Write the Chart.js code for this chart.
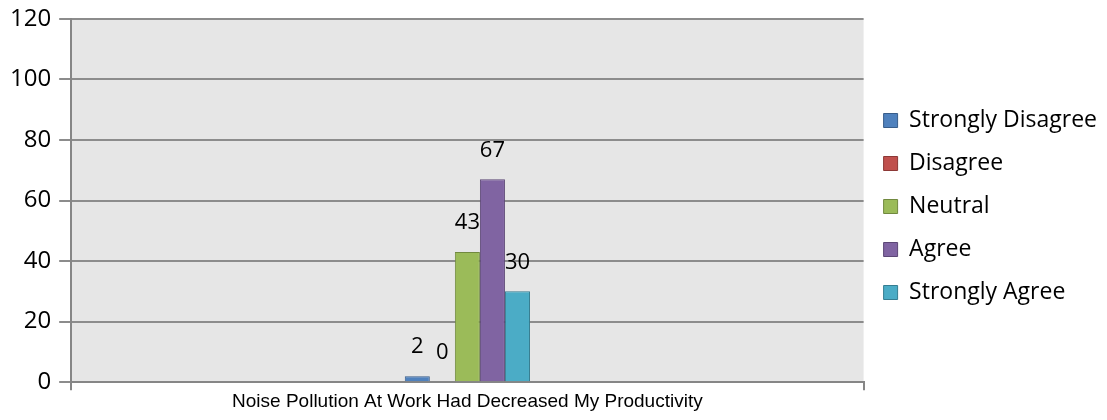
<!DOCTYPE html>
<html>
<head>
<meta charset="utf-8">
<script src="https://cdn.jsdelivr.net/npm/chart.js@4/dist/chart.umd.min.js"></script>
<style>
  html, body { margin: 0; padding: 0; background: #fff; }
  #wrap { width: 1107px; height: 420px; }
</style>
</head>
<body>
<div id="wrap"><canvas id="surveyChart" width="1107" height="420"></canvas></div>
<script>
// survey answers, one group of bars
const categories = ['Noise Pollution At Work Had Decreased My Productivity'];
const seriesNames = ['Strongly Disagree', 'Disagree', 'Neutral', 'Agree', 'Strongly Agree'];
const seriesValues = [2, 0, 43, 67, 30];
const yTicks = [0, 20, 40, 60, 80, 100, 120];

const fills = ['#4f81bd', '#c0504d', '#9bbb59', '#8064a2', '#4bacc6'];
const edges = ['#385d8a', '#8c3836', '#71893f', '#5c4776', '#357d91'];

// grey plot background
const plotBg = {
    id: 'plotBg',
    beforeDraw(chart) {
        const a = chart.chartArea;
        const c = chart.ctx;
        c.save();
        c.fillStyle = '#e6e6e6';
        c.fillRect(a.left, a.top, a.right - a.left, a.bottom - a.top);
        c.restore();
    }
};

// numbers above each bar
const valueLabels = {
    id: 'valueLabels',
    afterDatasetsDraw(chart) {
        const c = chart.ctx;
        c.save();
        c.font = '22px "Open Sans"';
        c.fillStyle = '#000';
        c.textAlign = 'center';
        c.textBaseline = 'middle';
        chart.data.datasets.forEach((ds, i) => {
            chart.getDatasetMeta(i).data.forEach((bar, j) => {
                c.fillText(String(ds.data[j]), bar.x, bar.y - 29);
            });
        });
        c.restore();
    }
};

const datasets = seriesNames.map((name, i) => ({
    label: name,
    data: [seriesValues[i]],
    backgroundColor: fills[i],
    borderColor: edges[i],
    borderWidth: 1,
    barPercentage: 1,
    categoryPercentage: 0.158
}));

new Chart(document.getElementById('surveyChart').getContext('2d'), {
    type: 'bar',
    data: { labels: categories, datasets: datasets },
    options: {
        responsive: false,
        animation: false,
        layout: { padding: { left: 2, top: 0, right: 0, bottom: 7 } },
        plugins: {
            tooltip: { enabled: false },
            legend: {
                position: 'right',
                labels: {
                    boxWidth: 14,
                    boxHeight: 14,
                    padding: 20,
                    color: '#000',
                    font: { family: 'Open Sans', size: 23 }
                }
            }
        },
        scales: {
            x: {
                grid: { display: true, drawOnChartArea: false, drawTicks: true, tickLength: 8, color: '#868686', lineWidth: 2 },
                border: { color: '#868686', width: 2 },
                ticks: { color: '#000', padding: 0, font: { family: 'Liberation Sans', size: 19 } }
            },
            y: {
                min: 0,
                max: 120,
                afterBuildTicks(scale) { scale.ticks = yTicks.map(v => ({ value: v })); },
                grid: { color: '#8c8c8c', lineWidth: 2, tickLength: 12 },
                border: { color: '#868686', width: 2 },
                ticks: { color: '#000', padding: 8, font: { family: 'Open Sans', size: 24, lineHeight: 0.9 } }
            }
        }
    },
    plugins: [plotBg, valueLabels]
});
</script>
</body>
</html>
